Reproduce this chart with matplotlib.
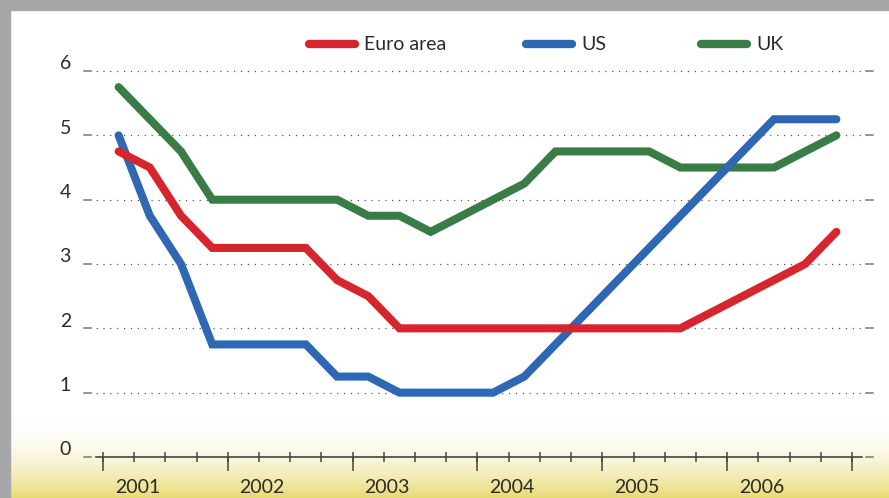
import numpy as np
import pandas as pd
import matplotlib
matplotlib.use("Agg")
import matplotlib.pyplot as plt
from matplotlib.lines import Line2D
from matplotlib.patches import Rectangle
import matplotlib.transforms as mtransforms

# Quarterly policy rates, quarter-end values (%)
quarters = pd.period_range("2001Q1", "2006Q4", freq="Q")
euro_area = [4.75, 4.5, 3.75, 3.25,
             3.25, 3.25, 3.25, 2.75,
             2.5, 2.0, 2.0, 2.0,
             2.0, 2.0, 2.0, 2.0,
             2.0, 2.0, 2.0, 2.25,
             2.5, 2.75, 3.0, 3.5]
us = [5.0, 3.75, 3.0, 1.75,
      1.75, 1.75, 1.75, 1.25,
      1.25, 1.0, 1.0, 1.0,
      1.0, 1.25, 1.75, 2.25,
      2.75, 3.25, 3.75, 4.25,
      4.75, 5.25, 5.25, 5.25]
uk = [5.75, 5.25, 4.75, 4.0,
      4.0, 4.0, 4.0, 4.0,
      3.75, 3.75, 3.5, 3.75,
      4.0, 4.25, 4.75, 4.75,
      4.75, 4.75, 4.5, 4.5,
      4.5, 4.5, 4.75, 5.0]
series_names = ["Euro area", "US", "UK"]
years = [2001, 2002, 2003, 2004, 2005, 2006]
y_ticks = [0, 1, 2, 3, 4, 5, 6]

colors = {"Euro area": "#d7252d", "US": "#2e67b2", "UK": "#3a7c45"}
text_color = "#2a2a2a"
axis_color = "#444444"
font = "Lato"

# quarter mid-points on a year scale
x = np.array([q.year + (q.quarter - 0.5) / 4 for q in quarters])

W, H = 889, 498
fig = plt.figure(figsize=(W / 100, H / 100), dpi=100)
fig.patch.set_facecolor("white")

# pale yellow fade along the bottom
bg = fig.add_axes([0, 0, 1, 80 / H], zorder=-2)
grad = np.linspace(0, 1, 200) ** 2.0
top = np.array([1.0, 1.0, 1.0])
bottom = np.array([0.91, 0.86, 0.45])
img = top[None, :] * (1 - grad[:, None]) + bottom[None, :] * grad[:, None]
bg.imshow(img[:, None, :], aspect="auto", extent=[0, 1, 0, 1], origin="upper")
bg.set_axis_off()

ax = fig.add_axes([96 / W, (H - 457) / H, 766 / W, 6.5 * 64.33 / H])
ax.set_facecolor("none")
ax.set_xlim(2001 - 7 / 124.8, 2007 + 10 / 124.8)
ax.set_ylim(0, 6.5)

for name, vals in [("UK", uk), ("US", us), ("Euro area", euro_area)]:
    ax.plot(x, vals, color=colors[name], lw=5.8, solid_capstyle="round",
            solid_joinstyle="miter", zorder=3)

# dotted gridlines and side dashes
trans = mtransforms.blended_transform_factory(ax.transAxes, ax.transData)
for v in y_ticks:
    if v > 0:
        ax.axhline(v, color="#555555", lw=0.9, ls=(0, (1, 4.5)), zorder=1)
    ax.add_line(Line2D([-12 / 766, -5 / 766], [v, v], transform=trans,
                       color="#777777", lw=1.1, clip_on=False))
    ax.add_line(Line2D([1 + 4 / 766, 1 + 11 / 766], [v, v], transform=trans,
                       color="#777777", lw=1.1, clip_on=False))
    ax.text(-25 / 766, v + 0.11, str(v), transform=trans, ha="right",
            va="center", fontsize=14, color=text_color, family=font)

for s in ["top", "right", "left"]:
    ax.spines[s].set_visible(False)
ax.spines["bottom"].set_color(axis_color)
ax.spines["bottom"].set_linewidth(1.2)
ax.set_yticks([])

ax.set_xticks(years + [2007])
ax.set_xticks([q.year + (q.quarter - 1) / 4 for q in quarters] + [2007], minor=True)
ax.xaxis.remove_overlapping_locs = False
ax.tick_params(axis="x", which="major", direction="out", length=10,
               width=1.1, color=axis_color, labelbottom=False)
ax.tick_params(axis="x", which="minor", direction="inout", length=7,
               width=1.1, color=axis_color)

xtrans = mtransforms.blended_transform_factory(ax.transData, ax.transAxes)
for yr in years:
    ax.text(yr + 0.275, -30 / (6.5 * 64.33), str(yr), transform=xtrans,
            ha="center", va="center", fontsize=14, color=text_color,
            family=font)

# legend across the top
legend_x = {"Euro area": 309, "US": 526, "UK": 701}
for name in series_names:
    x0 = legend_x[name]
    fig.add_artist(Line2D([x0 / W, (x0 + 46) / W], [1 - 44 / H, 1 - 44 / H],
                          transform=fig.transFigure, color=colors[name],
                          lw=6, solid_capstyle="round"))
    fig.text((x0 + 55) / W, 1 - 44 / H, name, ha="left", va="center",
             fontsize=14, color=text_color, family=font)

# grey frame on the top and left edges
fig.add_artist(Rectangle((0, 1 - 10 / H), 1, 10 / H, transform=fig.transFigure,
                         color="#a7a7a9", zorder=10))
fig.add_artist(Rectangle((0, 0), 10 / W, 1, transform=fig.transFigure,
                         color="#a7a7a9", zorder=10))

fig.savefig("out.png", dpi=100)
